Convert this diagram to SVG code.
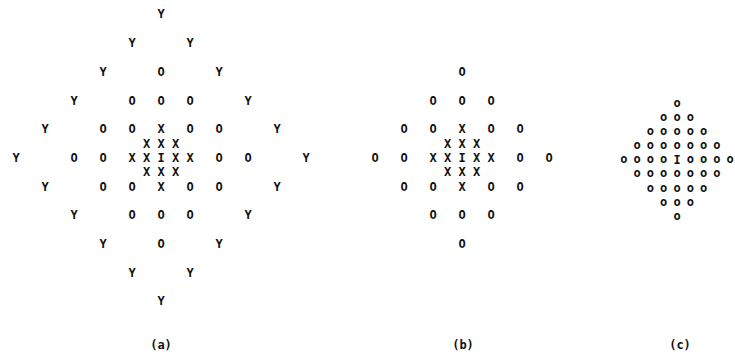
<svg xmlns="http://www.w3.org/2000/svg" width="735" height="356" viewBox="0 0 735 356">
<style>
text{font-family:"DejaVu Sans Mono","Liberation Mono",monospace;font-size:12px;font-weight:bold;fill:#111;text-anchor:middle}
.s{font-size:12px}
</style>
<rect width="735" height="356" fill="#fff"/>
<g id="panel-a">
<text x="161" y="18.4">Y</text>
<text x="132" y="47.1">Y</text><text x="190" y="47.1">Y</text>
<text x="103" y="75.8">Y</text><text x="161" y="75.8">O</text><text x="219" y="75.8">Y</text>
<text x="74" y="104.5">Y</text><text x="132" y="104.5">O</text><text x="161" y="104.5">O</text><text x="190" y="104.5">O</text><text x="248" y="104.5">Y</text>
<text x="45" y="133.2">Y</text><text x="103" y="133.2">O</text><text x="132" y="133.2">O</text><text x="161" y="133.2">X</text><text x="190" y="133.2">O</text><text x="219" y="133.2">O</text><text x="277" y="133.2">Y</text>
<text x="146.5" y="147.6">X</text><text x="161" y="147.6">X</text><text x="175.5" y="147.6">X</text>
<text x="16" y="161.9">Y</text><text x="74" y="161.9">O</text><text x="103" y="161.9">O</text><text x="132" y="161.9">X</text><text x="146.5" y="161.9">X</text><text x="161" y="161.9">I</text><text x="175.5" y="161.9">X</text><text x="190" y="161.9">X</text><text x="219" y="161.9">O</text><text x="248" y="161.9">O</text><text x="306" y="161.9">Y</text>
<text x="146.5" y="176.3">X</text><text x="161" y="176.3">X</text><text x="175.5" y="176.3">X</text>
<text x="45" y="190.6">Y</text><text x="103" y="190.6">O</text><text x="132" y="190.6">O</text><text x="161" y="190.6">X</text><text x="190" y="190.6">O</text><text x="219" y="190.6">O</text><text x="277" y="190.6">Y</text>
<text x="74" y="219.3">Y</text><text x="132" y="219.3">O</text><text x="161" y="219.3">O</text><text x="190" y="219.3">O</text><text x="248" y="219.3">Y</text>
<text x="103" y="248">Y</text><text x="161" y="248">O</text><text x="219" y="248">Y</text>
<text x="132" y="276.7">Y</text><text x="190" y="276.7">Y</text>
<text x="161" y="305.4">Y</text>
<text x="161" y="349">(a)</text>
</g>
<g id="panel-b">
<text x="462" y="75.8">O</text>
<text x="433" y="104.5">O</text><text x="462" y="104.5">O</text><text x="491" y="104.5">O</text>
<text x="404" y="133.2">O</text><text x="433" y="133.2">O</text><text x="462" y="133.2">X</text><text x="491" y="133.2">O</text><text x="520" y="133.2">O</text>
<text x="447.5" y="147.6">X</text><text x="462" y="147.6">X</text><text x="476.5" y="147.6">X</text>
<text x="375" y="161.9">O</text><text x="404" y="161.9">O</text><text x="433" y="161.9">X</text><text x="447.5" y="161.9">X</text><text x="462" y="161.9">I</text><text x="476.5" y="161.9">X</text><text x="491" y="161.9">X</text><text x="520" y="161.9">O</text><text x="549" y="161.9">O</text>
<text x="447.5" y="176.3">X</text><text x="462" y="176.3">X</text><text x="476.5" y="176.3">X</text>
<text x="404" y="190.6">O</text><text x="433" y="190.6">O</text><text x="462" y="190.6">X</text><text x="491" y="190.6">O</text><text x="520" y="190.6">O</text>
<text x="433" y="219.3">O</text><text x="462" y="219.3">O</text><text x="491" y="219.3">O</text>
<text x="462" y="248">O</text>
<text x="463" y="349">(b)</text>
</g>
<g id="panel-c" class="s">
<text x="677" y="107">o</text>
<text x="663.7" y="121">o</text><text x="677" y="121">o</text><text x="690.3" y="121">o</text>
<text x="650.4" y="135.1">o</text><text x="663.7" y="135.1">o</text><text x="677" y="135.1">o</text><text x="690.3" y="135.1">o</text><text x="703.6" y="135.1">o</text>
<text x="637.1" y="149.2">o</text><text x="650.4" y="149.2">o</text><text x="663.7" y="149.2">o</text><text x="677" y="149.2">o</text><text x="690.3" y="149.2">o</text><text x="703.6" y="149.2">o</text><text x="716.9" y="149.2">o</text>
<text x="623.8" y="163.3">o</text><text x="637.1" y="163.3">o</text><text x="650.4" y="163.3">o</text><text x="663.7" y="163.3">o</text><text x="677" y="164.4">I</text><text x="690.3" y="163.3">o</text><text x="703.6" y="163.3">o</text><text x="716.9" y="163.3">o</text><text x="730.2" y="163.3">o</text>
<text x="637.1" y="177.4">o</text><text x="650.4" y="177.4">o</text><text x="663.7" y="177.4">o</text><text x="677" y="177.4">o</text><text x="690.3" y="177.4">o</text><text x="703.6" y="177.4">o</text><text x="716.9" y="177.4">o</text>
<text x="650.4" y="191.5">o</text><text x="663.7" y="191.5">o</text><text x="677" y="191.5">o</text><text x="690.3" y="191.5">o</text><text x="703.6" y="191.5">o</text>
<text x="663.7" y="205.6">o</text><text x="677" y="205.6">o</text><text x="690.3" y="205.6">o</text>
<text x="677" y="219.7">o</text>
<text x="680" y="349">(c)</text>
</g>
</svg>
